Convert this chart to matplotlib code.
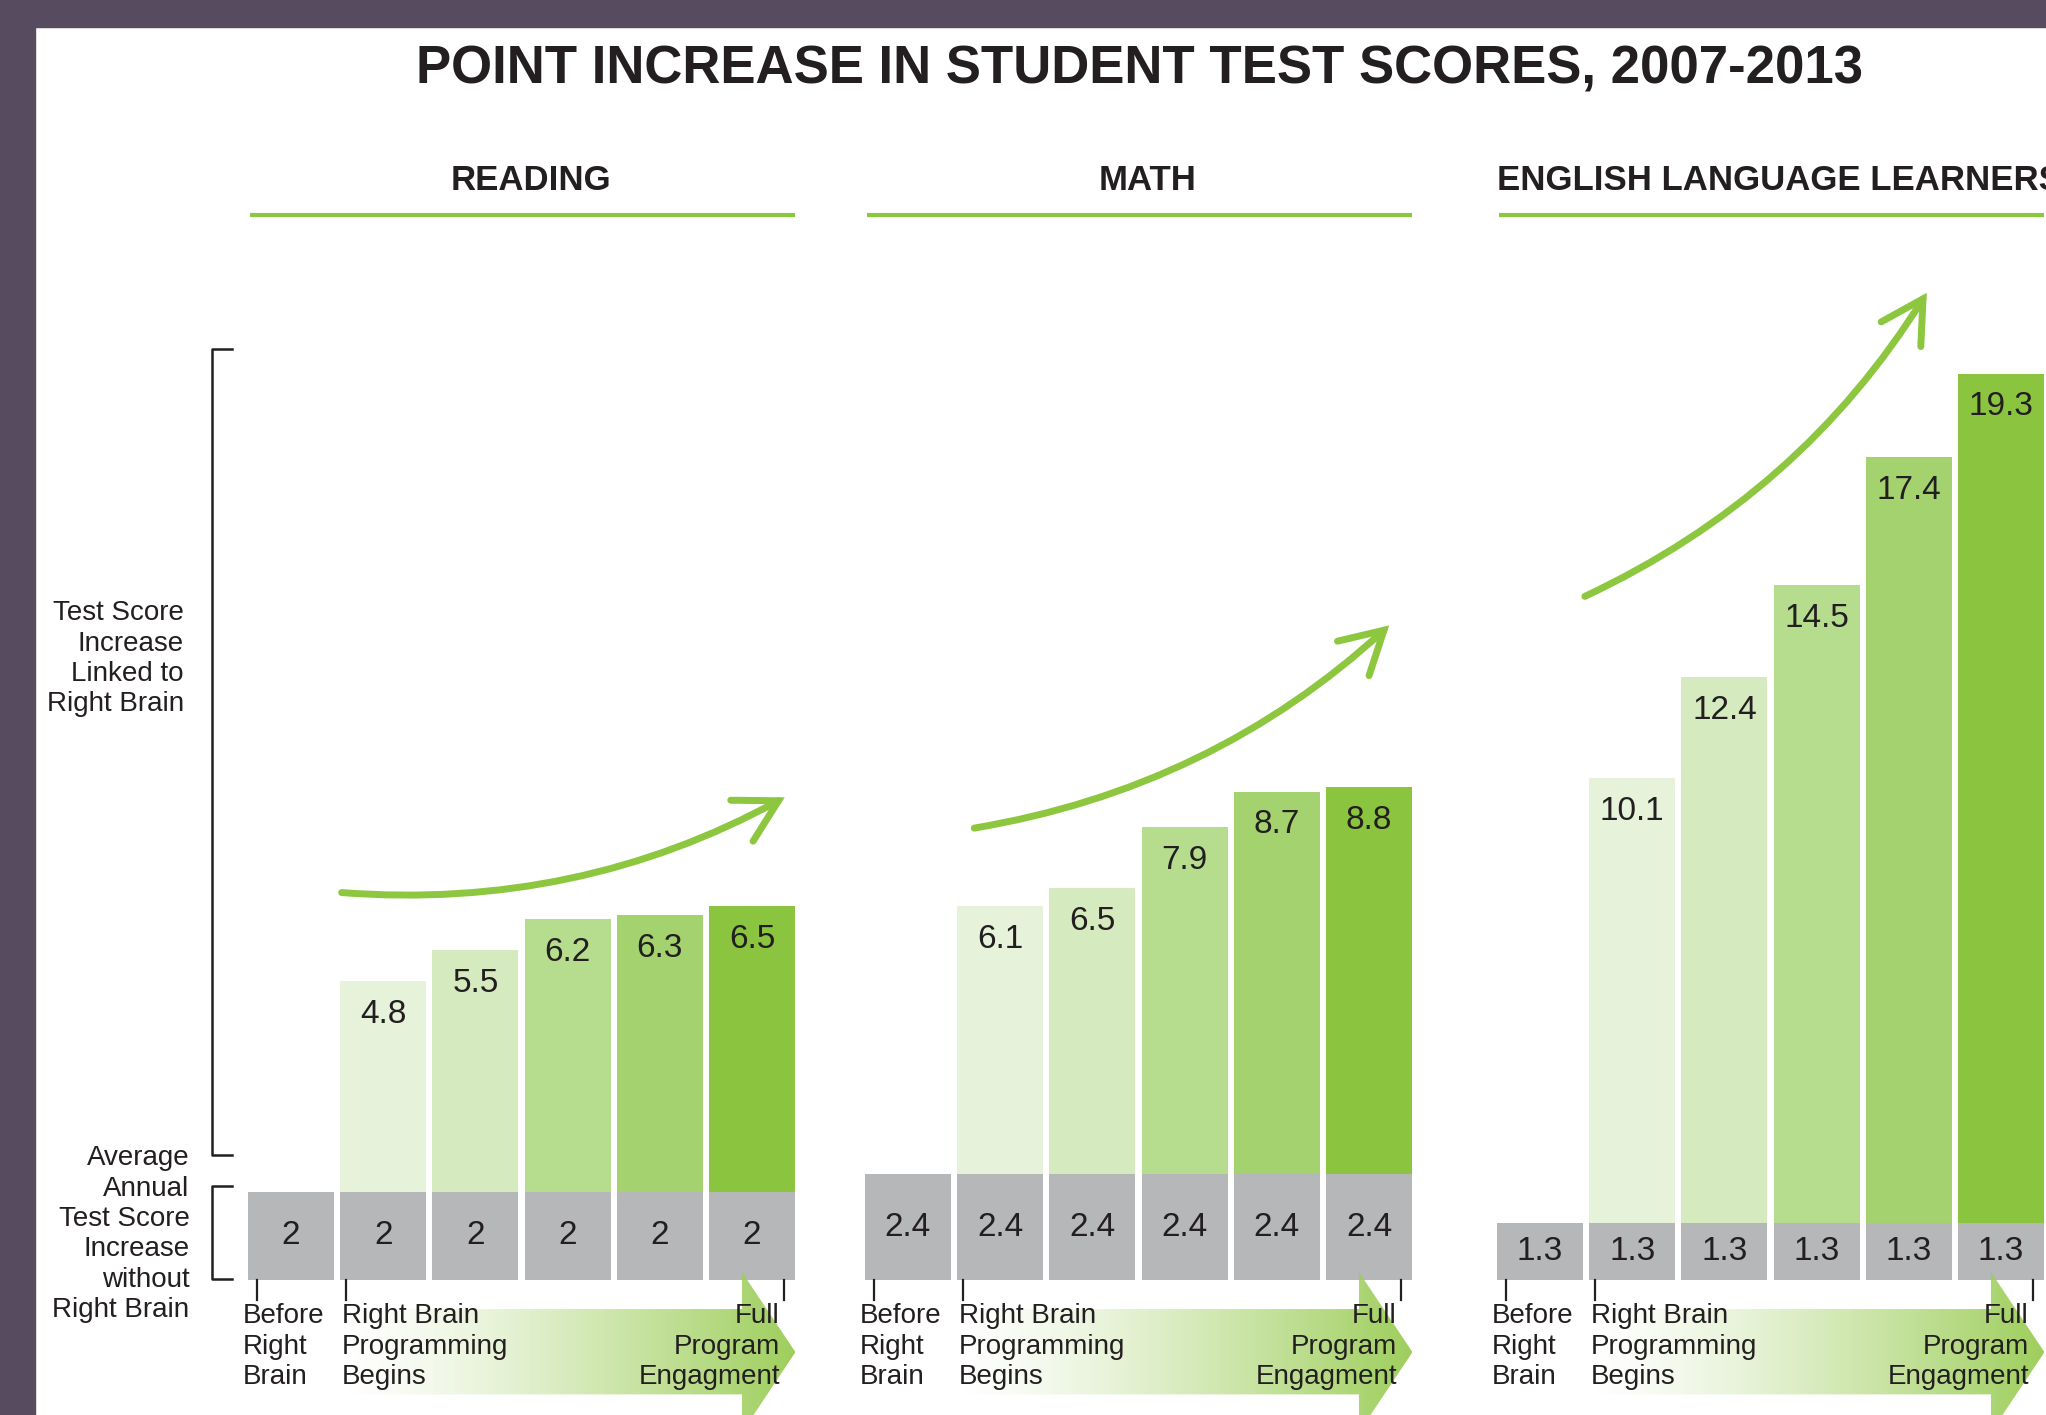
import numpy as np
import matplotlib.pyplot as plt
from matplotlib.patches import Rectangle, Polygon, FancyArrowPatch, ArrowStyle
from matplotlib.colors import LinearSegmentedColormap

plt.rcParams['font.family'] = ['Liberation Sans', 'DejaVu Sans']

title = 'POINT INCREASE IN STUDENT TEST SCORES, 2007-2013'
subjects = ['READING', 'MATH', 'ENGLISH LANGUAGE LEARNERS']
baseline = [2, 2.4, 1.3]
reading_gain = [0, 4.8, 5.5, 6.2, 6.3, 6.5]
math_gain = [0, 6.1, 6.5, 7.9, 8.7, 8.8]
ell_gain = [0, 10.1, 12.4, 14.5, 17.4, 19.3]
gains = [reading_gain, math_gain, ell_gain]
stage_labels = ['Before\nRight\nBrain', 'Right Brain\nProgramming\nBegins', 'Full\nProgram\nEngagment']
side_top = 'Test Score\nIncrease\nLinked to\nRight Brain'
side_bottom = 'Average\nAnnual\nTest Score\nIncrease\nwithout\nRight Brain'

gray = '#b5b7b8'
greens = ['#ffffff', '#e6f2da', '#d6eac0', '#b6dc8e', '#a3d26e', '#8bc540']
green = '#8dc63f'
dark = '#231f20'
purple = '#574b60'

W, H = 2046, 1415
BASE_PX = 1280
UNIT_PX = 44.0
panel_left = [248, 865, 1497]
panel_w = 547

fig = plt.figure(figsize=(W / 100, H / 100), dpi=100)
fig.patch.set_facecolor('white')

ymin = -(H - BASE_PX) / UNIT_PX
ymax = ymin + H / UNIT_PX
x = np.arange(6)
bw = 0.93

# curved trend arrows (start, end) in each panel's data coords
curves = [((0.52, 8.81), (5.38, 11.0)),
          ((0.69, 10.26), (5.24, 14.92)),
          ((0.46, 15.51), (4.21, 22.49))]

cmap = LinearSegmentedColormap.from_list('fade', ['#ffffff', green])

for k in range(3):
    ax = fig.add_axes([panel_left[k] / W, 0, panel_w / W, 1])
    ax.axis('off')
    ax.patch.set_alpha(0)

    base = np.full(6, baseline[k])
    g = np.array(gains[k])
    ax.bar(x, base, width=bw, color=gray, zorder=2)
    ax.bar(x[1:], g[1:], bottom=base[1:], width=bw, color=greens[1:], zorder=2)

    for i in range(6):
        ax.text(i, base[i] / 2, f'{base[i]:g}', ha='center', va='center',
                fontsize=24, color=dark, zorder=5)
        if g[i] > 0:
            ax.annotate(f'{g[i]:g}', (i, base[i] + g[i]), xytext=(0, -24),
                        textcoords='offset points', ha='center', va='center',
                        fontsize=24, color=dark, zorder=5)

    # header + underline
    ax.text(2.6, 25.0, subjects[k], ha='center', va='center', fontsize=25,
            fontweight='bold', color=dark)
    ax.plot([-0.44, 5.465], [24.2, 24.2], color=green, lw=3, solid_capstyle='butt')

    # curved arrow
    (x0, y0), (x1, y1) = curves[k]
    arr = FancyArrowPatch((x0, y0), (x1, y1), connectionstyle='arc3,rad=0.15',
                          arrowstyle=ArrowStyle('->', head_length=0.75, head_width=0.42),
                          mutation_scale=40, color=green, lw=5, zorder=4,
                          capstyle='round', joinstyle='miter')
    ax.add_patch(arr)

    # gradient arrow at bottom
    xs, xh, xt = 0.55, 4.89, 5.47
    verts = [(xs, -0.66), (xh, -0.66), (xh, 0.18), (xt, -1.64),
             (xh, -3.46), (xh, -2.6), (xs, -2.6)]
    poly = Polygon(verts, closed=True, facecolor='none', edgecolor='none')
    ax.add_patch(poly)
    grad = np.linspace(0, 1, 256).reshape(1, -1) ** 1.3
    im = ax.imshow(grad, extent=[xs, xt, -3.46, 0.18], cmap=cmap, aspect='auto',
                   alpha=0.85, zorder=3, interpolation='bilinear')
    im.set_clip_path(poly)

    # ticks under the bars
    for tx in [-0.37, 0.6, 5.35]:
        ax.plot([tx, tx], [0, -0.45], color=dark, lw=1.6, zorder=5)

    ax.text(-0.52, -0.53, stage_labels[0], ha='left', va='top', fontsize=20,
            color=dark, linespacing=1.22, zorder=6)
    ax.text(0.55, -0.53, stage_labels[1], ha='left', va='top', fontsize=20,
            color=dark, linespacing=1.22, zorder=6)
    ax.text(5.3, -0.53, stage_labels[2], ha='right', va='top', fontsize=20,
            color=dark, linespacing=1.22, multialignment='right', zorder=6)

    if k == 0:
        ax.plot([-0.64, -0.85, -0.85, -0.64], [21.15, 21.15, 2.85, 2.85],
                color=dark, lw=1.8, clip_on=False)
        ax.plot([-0.64, -0.85, -0.85, -0.64], [2.14, 2.14, 0.03, 0.03],
                color=dark, lw=1.8, clip_on=False)
        ax.text(-1.16, 14.12, side_top, ha='right', va='center', fontsize=20,
                color=dark, linespacing=1.22, multialignment='right')
        ax.text(-1.10, 1.04, side_bottom, ha='right', va='center', fontsize=20,
                color=dark, linespacing=1.22, multialignment='right')

    ax.set_xlim(-0.465, 5.465)
    ax.set_ylim(ymin, ymax)

fig.text(1139 / W, 1 - 70 / H, title, ha='center', va='center', fontsize=38,
         fontweight='bold', color=dark)

# purple frame on the left and top
fig.add_artist(Rectangle((0, 0), 35 / W, 1, transform=fig.transFigure,
                         color=purple, zorder=10))
fig.add_artist(Rectangle((0, 1 - 27 / H), 1, 27 / H, transform=fig.transFigure,
                         color=purple, zorder=10))

fig.savefig('out.png', dpi=100)
